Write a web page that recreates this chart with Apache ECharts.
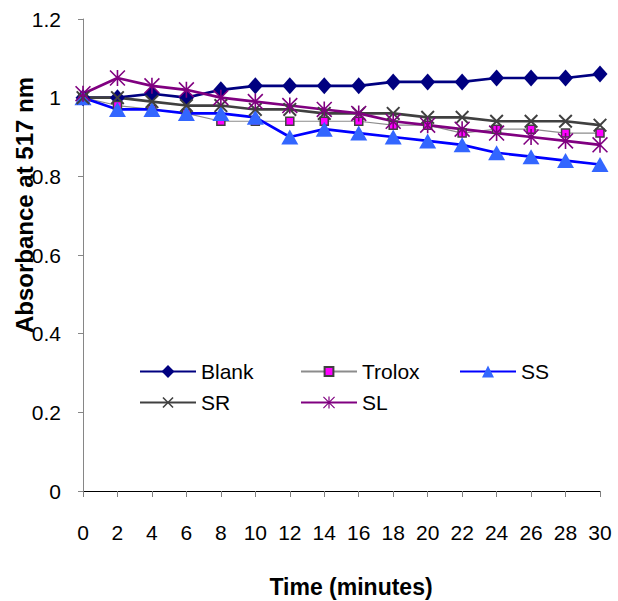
<!DOCTYPE html>
<html>
<head>
<meta charset="utf-8">
<script src="https://cdn.jsdelivr.net/npm/echarts@6/dist/echarts.min.js"></script>
<style>
html,body{margin:0;padding:0;background:#fff;}
#chart{width:618px;height:601px;}
</style>
</head>
<body>
<div id="chart"></div>
<script>
// ---- data ----
var timeMinutes = [0, 2, 4, 6, 8, 10, 12, 14, 16, 18, 20, 22, 24, 26, 28, 30];
var blank  = [1.00, 1.00, 1.01, 1.00, 1.02, 1.03, 1.03, 1.03, 1.03, 1.04, 1.04, 1.04, 1.05, 1.05, 1.05, 1.06];
var trolox = [1.00, 0.98, 0.97, 0.96, 0.94, 0.94, 0.94, 0.94, 0.94, 0.93, 0.93, 0.91, 0.92, 0.92, 0.91, 0.91];
var ss     = [1.00, 0.97, 0.97, 0.96, 0.96, 0.95, 0.90, 0.92, 0.91, 0.90, 0.89, 0.88, 0.86, 0.85, 0.84, 0.83];
var sr     = [1.00, 1.00, 0.99, 0.98, 0.98, 0.97, 0.97, 0.96, 0.96, 0.96, 0.95, 0.95, 0.94, 0.94, 0.94, 0.93];
var sl     = [1.01, 1.05, 1.03, 1.02, 1.00, 0.99, 0.98, 0.97, 0.96, 0.94, 0.93, 0.92, 0.91, 0.90, 0.89, 0.88];
var seriesNames = ['Blank', 'Trolox', 'SS', 'SR', 'SL'];
var yTitle = 'Absorbance at 517 nm';
var xTitle = 'Time (minutes)';

function pairs(vals) {
  return timeMinutes.map(function (t, i) { return [t, vals[i]]; });
}

var xSymbol = 'path://M0,2 L2,0 L10,8 L18,0 L20,2 L12,10 L20,18 L18,20 L10,12 L2,20 L0,18 L8,10 Z';
var starSymbol = 'path://M9,0 L11,0 L11,20 L9,20 Z M1.4,0 L20,18.6 L18.6,20 L0,1.4 Z M18.6,0 L20,1.4 L1.4,20 L0,18.6 Z';

var font = 'Liberation Sans, Arial, sans-serif';
var chart = echarts.init(document.getElementById('chart'), null, {renderer: 'svg'});

function legendAt(name, left, top, h) {
  return {
    data: [name], left: left, top: top, orient: 'horizontal',
    itemWidth: 56, itemHeight: h, selectedMode: false,
    textStyle: {fontFamily: font, fontSize: 21, color: '#000'}
  };
}

var option = {
  backgroundColor: '#fff',
  animation: false,
  grid: {left: 83, right: 18, top: 19, bottom: 110, containLabel: false},
  legend: [
    legendAt('Blank', 134, 356, 16),
    legendAt('Trolox', 295, 356, 11),
    legendAt('SS', 454, 356, 15),
    legendAt('SR', 134, 387, 14),
    legendAt('SL', 295, 387, 15)
  ],
  xAxis: {
    type: 'value', min: 0, max: 30, interval: 2,
    splitLine: {show: false},
    axisLine: {lineStyle: {color: '#000', width: 1}},
    axisTick: {show: true, length: 6, lineStyle: {color: '#808080'}},
    axisLabel: {margin: 31, fontFamily: font, fontSize: 21, color: '#000'}
  },
  yAxis: {
    type: 'value', min: 0, max: 1.2, interval: 0.2,
    splitLine: {show: false},
    axisLine: {show: true, lineStyle: {color: '#868686', width: 1}},
    axisTick: {show: true, length: 5, lineStyle: {color: '#868686'}},
    axisLabel: {margin: 22, fontFamily: font, fontSize: 21, color: '#000'}
  },
  graphic: [
    {type: 'text', x: 24, y: 205, rotation: Math.PI / 2,
     style: {text: yTitle, fontFamily: font, fontSize: 24, fontWeight: 'bold', fill: '#000', align: 'center', verticalAlign: 'middle'}},
    {type: 'text', x: 351, y: 587,
     style: {text: xTitle, fontFamily: font, fontSize: 23, fontWeight: 'bold', fill: '#000', align: 'center', verticalAlign: 'middle'}}
  ],
  series: [
    {name: seriesNames[0], type: 'line', data: pairs(blank),
     symbol: 'diamond', symbolSize: [15, 17],
     lineStyle: {color: '#000080', width: 2.7},
     itemStyle: {color: '#000080'}},
    {name: seriesNames[1], type: 'line', data: pairs(trolox),
     symbol: 'rect', symbolSize: 8,
     lineStyle: {color: '#8c8c8c', width: 1.2},
     itemStyle: {color: '#ff00ff', borderColor: '#404040', borderWidth: 1.5}},
    {name: seriesNames[2], type: 'line', data: pairs(ss),
     symbol: 'triangle', symbolSize: [17, 15],
     lineStyle: {color: '#0000ff', width: 2.7},
     itemStyle: {color: '#3366ff'}},
    {name: seriesNames[3], type: 'line', data: pairs(sr),
     symbol: xSymbol, symbolSize: 14,
     lineStyle: {color: '#404040', width: 2.7},
     itemStyle: {color: '#404040'}},
    {name: seriesNames[4], type: 'line', data: pairs(sl),
     symbol: starSymbol, symbolSize: 16,
     lineStyle: {color: '#800080', width: 2.7},
     itemStyle: {color: '#800080'}}
  ]
};
chart.setOption(option);
</script>
</body>
</html>
